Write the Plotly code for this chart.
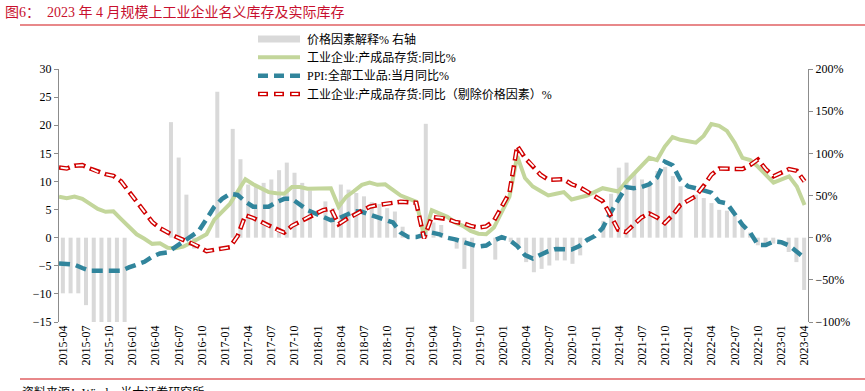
import plotly.graph_objects as go

# ---------------- data (monthly, 2015-04 .. 2023-04) ----------------
months = []
for y in range(2015, 2024):
    for mth in range(1, 13):
        if (y == 2015 and mth < 4) or (y == 2023 and mth > 4):
            continue
        months.append(f"{y}-{mth:02d}")

# 价格因素解释 %（右轴）
price_factor_pct = [
    -66, -66, -66, -80, -105, -115, -130, -125, -180,
    None, None, None, None, None, 137, 95, 51, -13, None, None, 173,
    None, 129, 93, 63, 62, 65, 69, 80, 89, 77, 65, 56,
    None, 43, 35, 63, 57, 53, 49, 42, 40, 35, 31, 13,
    None, 2, 135, 18, 15, 0, -13, -37, -102, None, None, -26,
    None, -5, -11, -29, -41, -37, -33, -27, -27, -31, -21, -5,
    None, 20, 52, 83, 89, 77, 69, 65, 79, 84, 73, 61,
    None, 51, 47, 41, 33, 32, 26, 14, 6, -9, -11, -7,
    None, -17, -29, -62,
]

# 工业企业:产成品存货:同比 %
nominal_inventory = [
    7.3, 7.0, 7.3, 6.9, 6.0, 5.1, 4.6, 4.7, 3.3,
    None, 0.6, -0.2, -1.1, -1.0, -1.8, -1.9, -1.6, -0.9, -0.2, 0.6, 3.2,
    None, 6.0, 8.2, 10.4, 9.5, 8.7, 8.1, 7.9, 7.8, 9.0, 9.0, 8.7,
    None, 8.7, 8.8, 5.5, 7.3, 8.3, 9.4, 9.8, 9.4, 9.5, 8.6, 7.5,
    None, 6.4, 0.3, 4.9, 4.3, 3.7, 2.7, 2.1, 1.2, 0.7, 0.6, 1.8,
    None, 7.3, 14.5, 10.6, 9.1, 8.3, 7.5, 7.8, 8.1, 6.8, 7.2, 7.5,
    None, 8.8, 8.5, 8.2, 9.9, 11.4, 12.9, 14.2, 13.8, 16.2, 17.9, 17.4,
    None, 16.9, 18.1, 20.2, 19.9, 19.0, 16.9, 14.2, 13.8, 12.6, 11.3, 9.8,
    None, 10.9, 9.1, 5.8,
]

# PPI:全部工业品:当月同比 %
ppi = [
    -4.6, -4.6, -4.8, -5.4, -5.9, -5.9, -5.9, -5.9, -5.9,
    -5.3, -4.9, -4.3, -3.4, -2.8, -2.6, -1.7, -0.8, 0.1, 1.2, 3.3, 5.5,
    6.9, 7.8, 7.6, 6.4, 5.5, 5.5, 5.5, 6.3, 6.9, 6.9, 5.8, 4.9,
    4.3, 3.7, 3.1, 3.4, 4.1, 4.7, 4.6, 4.1, 3.6, 3.3, 2.7, 0.9,
    0.1, 0.1, 0.4, 0.9, 0.6, 0.0, -0.3, -0.8, -1.2, -1.6, -1.4, -0.5,
    0.1, -0.4, -1.5, -3.1, -3.7, -3.0, -2.4, -2.0, -2.1, -2.1, -1.5, -0.4,
    0.3, 1.7, 4.4, 6.8, 9.0, 8.8, 9.0, 9.5, 10.7, 13.5, 12.9, 10.3,
    9.1, 8.8, 8.3, 8.0, 6.4, 6.1, 4.2, 2.3, 0.9, -1.3, -1.3, -0.7,
    -0.8, -1.4, -2.5, -3.6,
]

# 工业企业:产成品存货:同比（剔除价格因素）%
real_inventory = [
    12.5, 12.3, 12.8, 12.9, 12.3, 11.7, 11.3, 11.0, 10.0,
    None, 6.4, 4.6, 2.8, 1.7, 0.9, 0.2, -0.4, -0.9, -1.6, -2.4, -2.2,
    None, -1.7, 0.3, 4.0, 3.5, 2.8, 2.1, 1.4, 0.9, 2.1, 2.8, 3.6,
    None, 4.9, 5.2, 2.4, 3.3, 4.0, 4.8, 5.5, 5.8, 6.0, 6.2, 6.4,
    None, 6.2, -0.1, 3.7, 3.6, 3.3, 2.8, 2.6, 2.1, 1.8, 2.0, 3.0,
    None, 8.0, 16.3, 14.2, 12.8, 11.2, 10.3, 10.3, 10.4, 9.5, 9.0, 8.2,
    None, 6.5, 4.0, 1.4, 1.0, 2.3, 3.6, 4.3, 3.6, 2.6, 4.0, 5.8,
    None, 7.4, 9.2, 11.2, 12.3, 12.3, 12.2, 12.2, 12.9, 13.9, 12.2, 10.9,
    None, 12.2, 11.9, 10.0,
]

tick_idx = list(range(0, len(months), 3))
tick_text = [months[i] for i in tick_idx]

# ---------------- styling ----------------
W, H = 865, 391
ML, MR, MT, MB = 59, 57, 69, 69
PW, PH = W - ML - MR, H - MT - MB
SERIF = "Liberation Serif, Noto Sans CJK SC"

GRAY_BAR = "#D9D9D9"
GREEN = "#C3D69B"
BLUE = "#31859C"
RED = "#D00000"
AXIS = "#8C8C8C"


def px_x(p):
    return (p - ML) / PW


def px_y(p):
    return (H - MB - p) / PH


idx = list(range(len(months)))

fig = go.Figure()
# bars on the main subplot (x, y) where y is the right-hand % axis
fig.add_trace(go.Bar(x=idx, y=price_factor_pct, marker_color=GRAY_BAR, width=0.52,
                     marker_line_width=0, xaxis="x", yaxis="y", showlegend=False))
# lines on (x2, y2) where y2 is the left-hand axis
fig.add_trace(go.Scatter(x=idx, y=nominal_inventory, mode="lines", connectgaps=True,
                         line=dict(color=GREEN, width=4), xaxis="x2", yaxis="y2",
                         showlegend=False))
fig.add_trace(go.Scatter(x=idx, y=ppi, mode="lines", connectgaps=True,
                         line=dict(color=BLUE, width=4.5, dash="11px,6px"),
                         xaxis="x2", yaxis="y2", showlegend=False))
fig.add_trace(go.Scatter(x=idx, y=real_inventory, mode="lines", connectgaps=True,
                         line=dict(color=RED, width=4.5, dash="11px,5px"),
                         xaxis="x2", yaxis="y2", showlegend=False))
fig.add_trace(go.Scatter(x=idx, y=real_inventory, mode="lines", connectgaps=True,
                         line=dict(color="white", width=1.8, dash="0px,1.6px,7.8px,6.6px"),
                         xaxis="x2", yaxis="y2", showlegend=False))

shapes = []
annotations = []

# title and rules
annotations.append(dict(xref="paper", yref="paper", x=px_x(3), y=px_y(12),
                        xanchor="left", yanchor="middle", showarrow=False,
                        text="图6：  2023 年 4 月规模上工业企业名义库存及实际库存",
                        font=dict(family=SERIF, size=14, color="#C8102E")))
shapes.append(dict(type="line", xref="paper", yref="paper", x0=px_x(20), x1=px_x(865),
                   y0=px_y(25), y1=px_y(25), line=dict(color="#E8888A", width=2)))
shapes.append(dict(type="line", xref="paper", yref="paper", x0=px_x(20), x1=px_x(865),
                   y0=px_y(379), y1=px_y(379), line=dict(color="#E8888A", width=2)))
annotations.append(dict(xref="paper", yref="paper", x=px_x(20), y=px_y(383),
                        xanchor="left", yanchor="top", showarrow=False,
                        text="资料来源：Wind，光大证券研究所",
                        font=dict(family=SERIF, size=12, color="#000000")))

# manual legend
leg_rows = [39, 57.3, 75.7, 94]
leg_text = ["价格因素解释% 右轴", "工业企业:产成品存货:同比%",
            "PPI:全部工业品:当月同比%", "工业企业:产成品存货:同比（剔除价格因素）%"]
sx0, sx1, tx = 258, 300, 305
shapes.append(dict(type="rect", xref="paper", yref="paper", x0=px_x(sx0), x1=px_x(sx1),
                   y0=px_y(leg_rows[0] + 3.5), y1=px_y(leg_rows[0] - 3.5),
                   fillcolor=GRAY_BAR, line=dict(width=0)))
shapes.append(dict(type="line", xref="paper", yref="paper", x0=px_x(sx0), x1=px_x(sx1),
                   y0=px_y(leg_rows[1]), y1=px_y(leg_rows[1]), line=dict(color=GREEN, width=4)))
shapes.append(dict(type="line", xref="paper", yref="paper", x0=px_x(sx0), x1=px_x(sx1),
                   y0=px_y(leg_rows[2]), y1=px_y(leg_rows[2]),
                   line=dict(color=BLUE, width=4.5, dash="10px,6px")))
shapes.append(dict(type="line", xref="paper", yref="paper", x0=px_x(sx0), x1=px_x(sx1),
                   y0=px_y(leg_rows[3]), y1=px_y(leg_rows[3]),
                   line=dict(color=RED, width=4.5, dash="10px,6px")))
shapes.append(dict(type="line", xref="paper", yref="paper", x0=px_x(sx0), x1=px_x(sx1),
                   y0=px_y(leg_rows[3]), y1=px_y(leg_rows[3]),
                   line=dict(color="white", width=1.8, dash="0px,1.6px,6.8px,7.6px")))
for r, t in zip(leg_rows, leg_text):
    annotations.append(dict(xref="paper", yref="paper", x=px_x(tx), y=px_y(r),
                            xanchor="left", yanchor="middle", showarrow=False, text=t,
                            font=dict(family=SERIF, size=12, color="#000000")))

fig.update_layout(
    width=W, height=H,
    margin=dict(l=ML, r=MR, t=MT, b=MB, pad=0),
    paper_bgcolor="white", plot_bgcolor="rgba(0,0,0,0)",
    showlegend=False,
    bargap=0.4,
    font=dict(family=SERIF, size=12, color="#000000"),
    xaxis=dict(range=[-0.5, len(months) - 0.5], tickmode="array", tickvals=tick_idx,
               ticktext=tick_text, tickangle=-90, showgrid=False, zeroline=False,
               showline=False, ticks="", automargin=False,
               tickfont=dict(family=SERIF, size=12)),
    xaxis2=dict(range=[0, 96.44], overlaying="x", anchor="y2", visible=False,
                showgrid=False, zeroline=False, automargin=False),
    xaxis3=dict(range=[-0.5, len(months) - 0.5], overlaying="x", anchor="free",
                position=1 / 3, showline=True, linecolor="#A6A6A6", linewidth=1.5,
                ticks="outside", ticklen=4, tickcolor="#A6A6A6", tickwidth=1,
                tickmode="array", tickvals=[i - 0.5 for i in tick_idx],
                showticklabels=False, showgrid=False, zeroline=False, automargin=False),
    # right-hand % axis (bars)
    yaxis=dict(range=[-100, 200], dtick=50, tick0=0, ticksuffix="%", side="right",
               showgrid=False, zeroline=False, showline=True, linecolor=AXIS,
               linewidth=1, ticks="outside", ticklen=4, tickcolor=AXIS, automargin=False,
               tickfont=dict(family=SERIF, size=12)),
    # left-hand axis (lines)
    yaxis2=dict(range=[-15, 30], dtick=5, tick0=0, overlaying="y", side="left",
                anchor="x", showgrid=False, zeroline=False, showline=True, linecolor=AXIS,
                linewidth=1, ticks="outside", ticklen=4, tickcolor=AXIS, automargin=False,
                tickfont=dict(family=SERIF, size=12)),
    shapes=shapes,
    annotations=annotations,
)

fig.write_html("out.html", config={"displayModeBar": False},
               post_script="document.body.style.margin='0px';")
